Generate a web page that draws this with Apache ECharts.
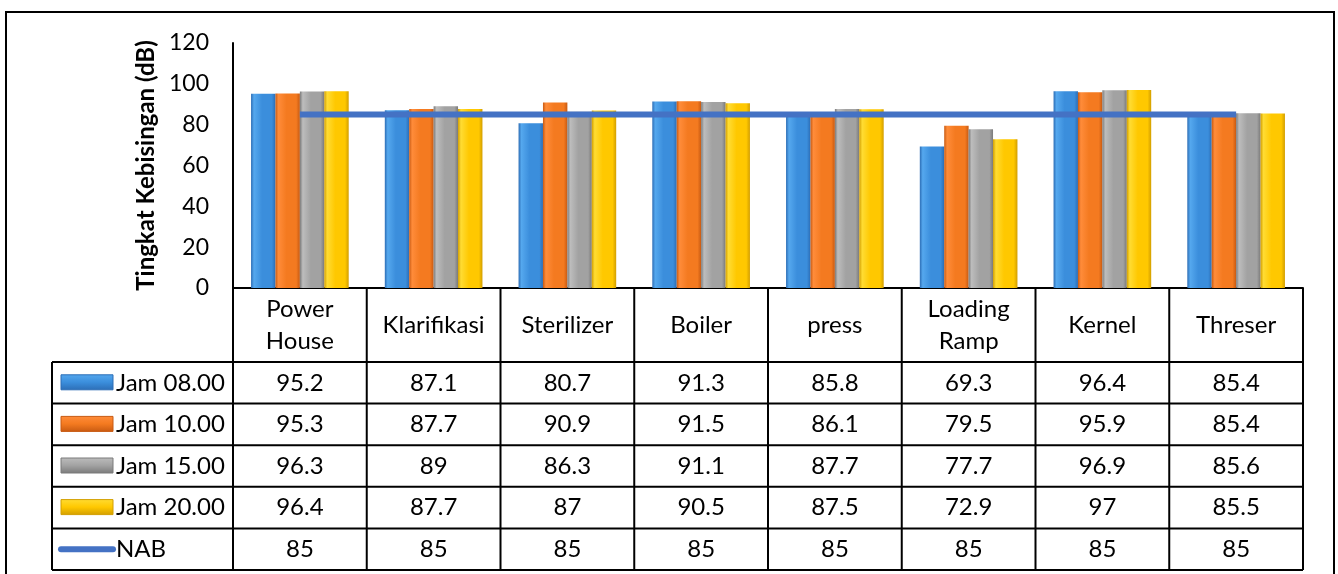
<!DOCTYPE html>
<html><head><meta charset="utf-8">
<script src="https://cdn.jsdelivr.net/npm/echarts@6/dist/echarts.min.js"></script>
<style>html,body{margin:0;padding:0;background:#fff}#c{width:1338px;height:574px}</style>
</head><body><div id="c"></div>
<script>
const categories = ["Power\nHouse","Klarifikasi","Sterilizer","Boiler","press","Loading\nRamp","Kernel","Threser"];
const seriesNames = ["Jam 08.00","Jam 10.00","Jam 15.00","Jam 20.00","NAB"];
const jam0800 = [95.2,87.1,80.7,91.3,85.8,69.3,96.4,85.4];
const jam1000 = [95.3,87.7,90.9,91.5,86.1,79.5,95.9,85.4];
const jam1500 = [96.3,89,86.3,91.1,87.7,77.7,96.9,85.6];
const jam2000 = [96.4,87.7,87,90.5,87.5,72.9,97,85.5];
const nab = [85,85,85,85,85,85,85,85];
const yMin = 0, yMax = 120, yStep = 20;
const yTitle = "Tingkat Kebisingan (dB)";

const FONT = 'Lato, "Noto Sans", sans-serif';
const barColors = [
  ['#2C6DB5','#55A8EE','#3B8EDC'],
  ['#C85A12','#FF8C3A','#F47A20'],
  ['#7A7A7A','#BDBDBD','#A2A2A2'],
  ['#D29E00','#FFDC33','#FFC800']
];
function grad(c){
  return new echarts.graphic.LinearGradient(0,0,1,0,[
    {offset:0,color:c[0]},{offset:0.12,color:c[1]},{offset:0.45,color:c[2]},
    {offset:0.85,color:c[2]},{offset:1,color:c[0]}]);
}
const barData = [jam0800, jam1000, jam1500, jam2000];
const lineColor = '#4472C4';

const chart = echarts.init(document.getElementById('c'), null, {renderer:'canvas'});
const GRID = {left:233, right:35, top:43, bottom:286};
const series = barData.map((d,i)=>({
  name: seriesNames[i], type:'bar', data:d, barGap:'0%', barCategoryGap:'27%',
  itemStyle:{color:grad(barColors[i]), shadowColor:'rgba(0,0,0,0.25)', shadowBlur:3, shadowOffsetX:1}, z:2
}));
series.push({name:seriesNames[4], type:'line', data:nab, symbol:'none',
  lineStyle:{color:lineColor,width:6}, itemStyle:{color:lineColor}, z:5});

chart.setOption({
  animation:false,
  backgroundColor:'#fff',
  grid:GRID,
  xAxis:{type:'category', data:categories, axisLine:{show:true,lineStyle:{color:'#000',width:2}},
    axisTick:{show:false}, axisLabel:{show:false}},
  yAxis:{type:'value', min:yMin, max:yMax, interval:yStep,
    axisLine:{show:true,lineStyle:{color:'#000',width:2}}, axisTick:{show:false}, splitLine:{show:false},
    axisLabel:{fontFamily:FONT,fontSize:23,color:'#000',margin:24},
    name:yTitle, nameLocation:'middle', nameGap:55, nameRotate:90,
    nameTextStyle:{fontFamily:FONT,fontSize:24,fontWeight:'bold',color:'#000'}},
  series:series
});

// Data table below the plot
const x0 = chart.convertToPixel({xAxisIndex:0}, 0);
const x1 = chart.convertToPixel({xAxisIndex:0}, 1);
const band = x1 - x0;
const tableTop = chart.convertToPixel({yAxisIndex:0}, yMin);
const headerH = 74, rowH = 41.6, legLeft = 52;
const nCat = categories.length;
const tLeft = x0 - band/2, tRight = tLeft + band*nCat;
const rowsTop = tableTop + headerH;
const tBottom = rowsTop + rowH*5;
const g = [];
const ls = {stroke:'#000', lineWidth:2};
g.push({type:'rect', shape:{x:6,y:12,width:1328,height:700}, style:{fill:null,stroke:'#000',lineWidth:2}, silent:true});
g.push({type:'line', shape:{x1:tLeft,y1:tableTop,x2:tRight,y2:tableTop}, style:ls});
for(let r=0;r<=5;r++){
  const y = rowsTop + r*rowH;
  g.push({type:'line', shape:{x1:legLeft,y1:y,x2:tRight,y2:y}, style:ls});
}
g.push({type:'line', shape:{x1:legLeft,y1:rowsTop,x2:legLeft,y2:tBottom}, style:ls});
for(let c=0;c<=nCat;c++){
  const x = tLeft + c*band;
  g.push({type:'line', shape:{x1:x,y1:tableTop,x2:x,y2:tBottom}, style:ls});
}
categories.forEach((name,i)=>{
  const cx = chart.convertToPixel({xAxisIndex:0}, i);
  g.push({type:'text', x:cx, y:tableTop+headerH/2, style:{text:name, fontFamily:FONT, fontSize:24, lineHeight:32,
    fill:'#000', align:'center', verticalAlign:'middle'}});
});
const allRows = [jam0800, jam1000, jam1500, jam2000, nab];
allRows.forEach((vals,r)=>{
  const cy = rowsTop + r*rowH + rowH/2;
  vals.forEach((v,i)=>{
    const cx = chart.convertToPixel({xAxisIndex:0}, i);
    g.push({type:'text', x:cx, y:cy, style:{text:String(v), fontFamily:FONT, fontSize:24,
      fill:'#000', align:'center', verticalAlign:'middle'}});
  });
  if(r<4){
    g.push({type:'rect', shape:{x:61,y:cy-8,width:52,height:15},
      style:{fill:new echarts.graphic.LinearGradient(0,0,0,1,[
        {offset:0,color:barColors[r][1]},{offset:0.5,color:barColors[r][2]},{offset:1,color:barColors[r][0]}]),
        stroke:barColors[r][0], lineWidth:1}});
  } else {
    g.push({type:'line', shape:{x1:61,y1:cy,x2:113,y2:cy}, style:{stroke:lineColor,lineWidth:6,lineCap:'round'}});
  }
  g.push({type:'text', x:116, y:cy, style:{text:seriesNames[r], fontFamily:FONT, fontSize:24,
    fill:'#000', align:'left', verticalAlign:'middle'}});
});
chart.setOption({graphic:g});
</script></body></html>
